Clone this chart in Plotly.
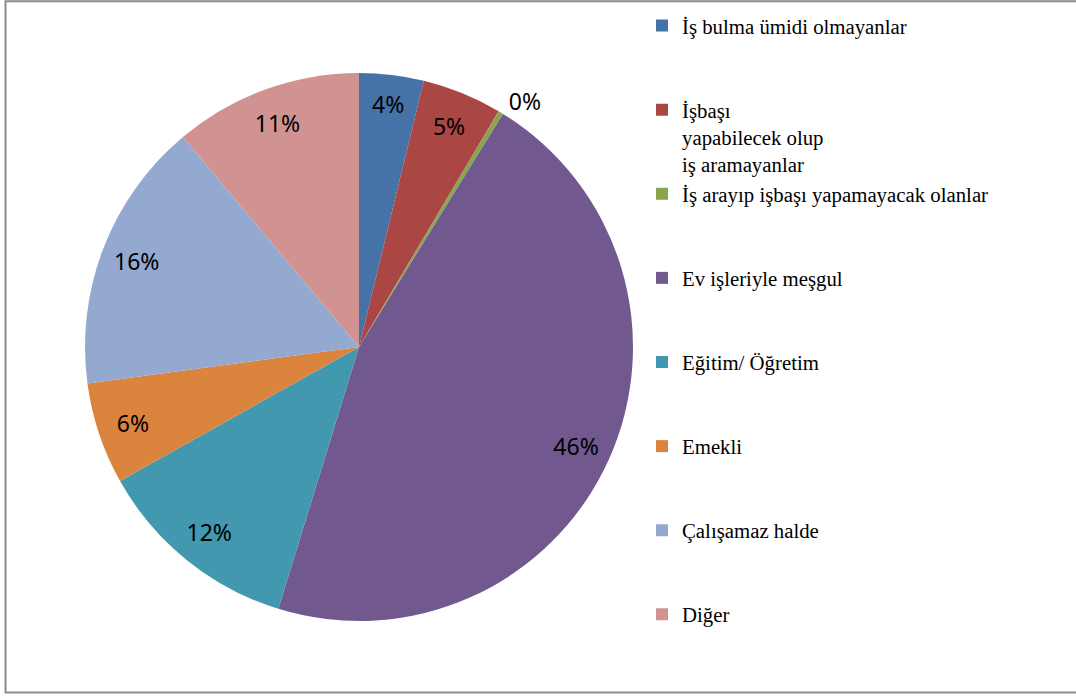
import plotly.graph_objects as go

categories = [
    "İş bulma ümidi olmayanlar",
    "İşbaşı<br>yapabilecek olup<br>iş aramayanlar",
    "İş arayıp işbaşı yapamayacak olanlar",
    "Ev işleriyle meşgul",
    "Eğitim/ Öğretim",
    "Emekli",
    "Çalışamaz halde",
    "Diğer",
]
shares = [3.8, 4.7, 0.3, 45.9, 12.1, 6.0, 16.0, 11.1]
colors = ["#4572A7", "#AA4643", "#89A54E", "#71588F",
          "#4198AF", "#DB843D", "#93A9CF", "#D19392"]
text_positions = ["inside", "inside", "outside", "inside",
                  "inside", "inside", "inside", "inside"]

W, H = 1076, 697
LABEL_FONT = dict(family="Noto Sans, Open Sans, sans-serif", size=23, color="#000000")

# pad legend names so every entry occupies three lines
legend_names = []
for c in categories:
    n = c.count("<br>") + 1
    legend_names.append(c + "<br>\u00a0" * (3 - n))

domain = dict(x=[85 / W, 633 / W], y=[1 - 621 / H, 1 - 73 / H])

fig = go.Figure()
# coloured slices
fig.add_trace(go.Pie(
    labels=legend_names,
    values=shares,
    sort=False,
    direction="clockwise",
    rotation=0,
    marker=dict(colors=colors, line=dict(width=0)),
    textinfo="none",
    hoverinfo="label+percent",
    domain=domain,
))
# transparent ring carrying the percentage labels near the rim
fig.add_trace(go.Pie(
    labels=legend_names,
    values=shares,
    sort=False,
    direction="clockwise",
    rotation=0,
    hole=0.74,
    marker=dict(colors=["rgba(0,0,0,0)"] * len(shares), line=dict(width=0)),
    texttemplate="%{percent:.0%}",
    textposition=text_positions,
    insidetextorientation="horizontal",
    textfont=LABEL_FONT,
    insidetextfont=LABEL_FONT,
    outsidetextfont=LABEL_FONT,
    hoverinfo="skip",
    showlegend=False,
    domain=domain,
))

fig.update_layout(
    width=W, height=H,
    margin=dict(l=0, r=0, t=0, b=0),
    paper_bgcolor="white",
    plot_bgcolor="white",
    showlegend=True,
    legend=dict(
        x=642 / W, xanchor="left",
        y=1 - 5.5 / H, yanchor="top",
        valign="top",
        font=dict(family="Liberation Serif, Times New Roman, serif", size=20.8, color="#000000"),
        bgcolor="rgba(0,0,0,0)",
        borderwidth=0,
        traceorder="normal",
    ),
    shapes=[dict(
        type="rect", xref="paper", yref="paper",
        x0=5.5 / W, x1=1.02, y0=1 - 692.5 / H, y1=1 - 1.2 / H,
        line=dict(color="#8a8a8a", width=2), fillcolor="rgba(0,0,0,0)",
        layer="below",
    )],
)

fig.write_html("out.html", config={"displayModeBar": False},
               post_script="document.body.style.margin='0px';")
